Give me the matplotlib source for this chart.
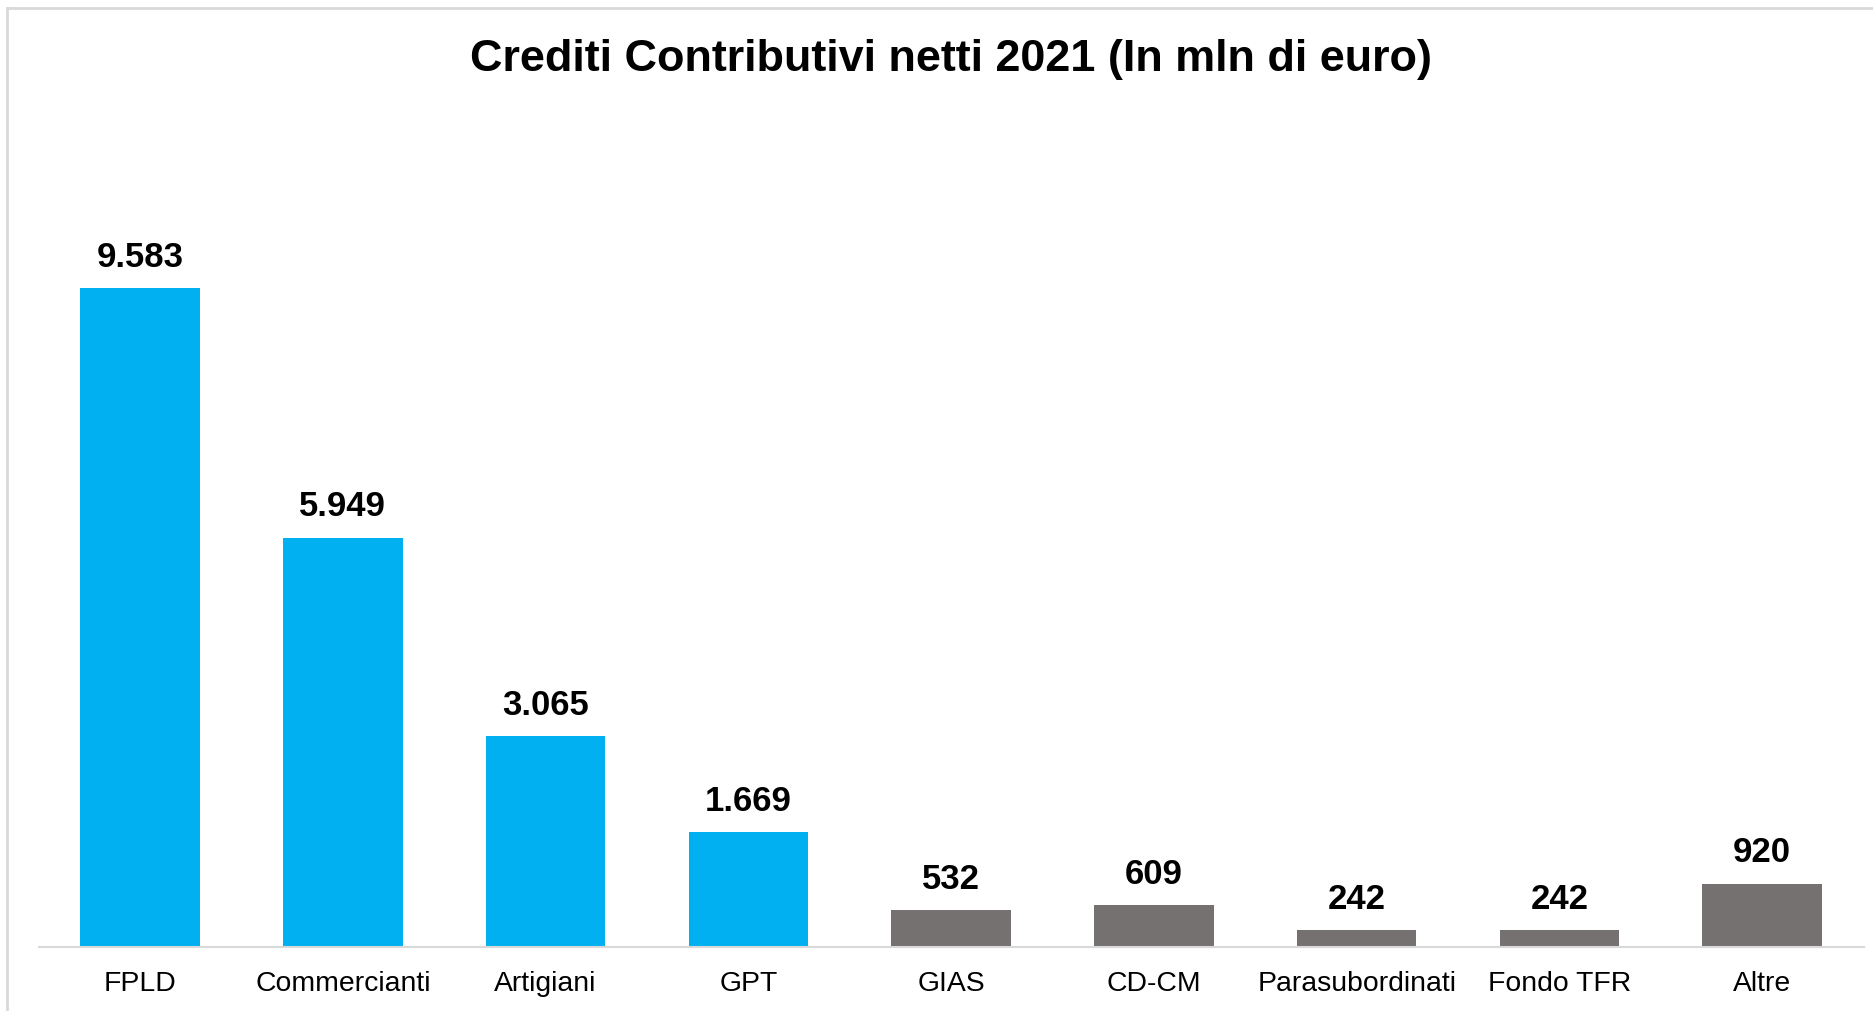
import matplotlib.pyplot as plt
from matplotlib.lines import Line2D

plt.rcParams['font.family'] = ['Liberation Sans', 'DejaVu Sans']

categorie = ["FPLD", "Commercianti", "Artigiani", "GPT", "GIAS", "CD-CM",
             "Parasubordinati", "Fondo TFR", "Altre"]
valori = [9583, 5949, 3065, 1669, 532, 609, 242, 242, 920]
etichette = ["9.583", "5.949", "3.065", "1.669", "532", "609", "242", "242", "920"]
colori = ["#00B0F0"] * 4 + ["#767171"] * 5

fig = plt.figure(figsize=(18.73, 10.11), dpi=100)
ax = fig.add_axes([0.0206, 0.0633, 0.9744, 0.816])

x = range(len(categorie))
bars = ax.bar(x, valori, width=0.59, color=colori)

# etichette sopra le barre
for b, t in zip(bars, etichette):
	ax.annotate(t, (b.get_x() + b.get_width() / 2, b.get_height()),
		xytext=(0, 10.5), textcoords="offset points",
		ha="center", va="bottom", fontsize=25, fontweight="bold")

ax.set_xlim(-0.5, len(categorie) - 0.5)
ax.set_ylim(0, 12000)
ax.set_xticks(list(x))
ax.set_xticklabels(categorie, fontsize=20.4)
ax.tick_params(axis="x", length=0, pad=17.5)
ax.set_yticks([])
for s in ["top", "right", "left"]:
	ax.spines[s].set_visible(False)
ax.spines["bottom"].set_color("#D9D9D9")
ax.spines["bottom"].set_linewidth(1.5)

fig.text(0.508, 1 - 59.5 / 1011, "Crediti Contributivi netti 2021 (In mln di euro)",
	ha="center", va="center", fontsize=32.4, fontweight="bold")

# cornice del grafico
fig.add_artist(Line2D([7 / 1873, 7 / 1873], [0, 1 - 8 / 1011], color="#D9D9D9", lw=2))
fig.add_artist(Line2D([7 / 1873, 1], [1 - 8 / 1011, 1 - 8 / 1011], color="#D9D9D9", lw=2))

fig.savefig("out.png", dpi=100)
